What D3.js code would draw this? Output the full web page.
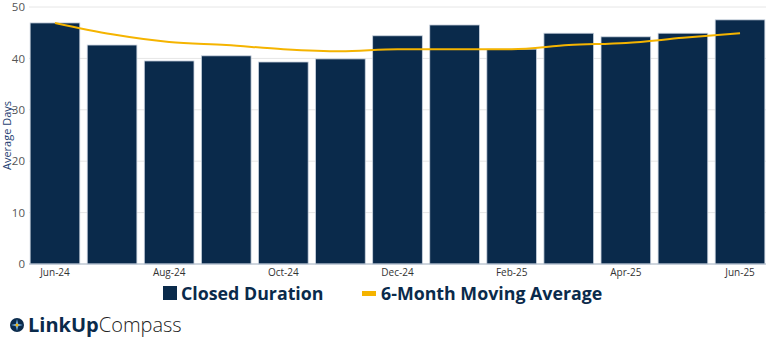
<!DOCTYPE html>
<html><head><meta charset="utf-8">
<script src="https://cdn.jsdelivr.net/npm/d3@7"></script>
<style>body{margin:0;background:#fff;font-family:"Open Sans",sans-serif}</style>
</head><body><svg id="c" width="768" height="343"></svg>
<script>
const months = ["Jun-24","Jul-24","Aug-24","Sep-24","Oct-24","Nov-24","Dec-24","Jan-25","Feb-25","Mar-25","Apr-25","May-25","Jun-25"];
const closedDuration = [46.9,42.6,39.5,40.5,39.3,39.9,44.4,46.5,41.8,44.9,44.2,44.9,47.5];
const movingAvg = [46.9,44.7,43.2,42.6,41.8,41.4,41.8,41.8,41.8,42.6,43.0,44.0,44.9];
const yTicks = [0,10,20,30,40,50];
const xTickLabels = ["Jun-24","Aug-24","Oct-24","Dec-24","Feb-25","Apr-25","Jun-25"];

const svg = d3.select("#c");
const m = {l:29, r:2, t:7, b:79};
const W = 768, H = 343;
const x = d3.scaleBand().domain(months).range([m.l, W-m.r]).paddingInner(0.13).paddingOuter(0.02);
const y = d3.scaleLinear().domain([0,50]).range([H-m.b, m.t]);

// grid
svg.append("g").selectAll("line").data(yTicks).join("line")
  .attr("x1", m.l).attr("x2", W-m.r)
  .attr("y1", d=>y(d)).attr("y2", d=>y(d))
  .attr("stroke", "#e6e6e6").attr("stroke-width", 1);

// y axis labels
const ya = svg.append("g").attr("transform", `translate(${m.l},0)`)
  .call(d3.axisLeft(y).tickValues(yTicks).tickSize(0).tickPadding(4));
ya.select(".domain").remove();
ya.selectAll("text").attr("font-family","Open Sans").attr("font-size", 11.5).attr("fill", "#555");

svg.append("text").attr("transform", `translate(10.5,${y(25)}) rotate(-90)`)
  .attr("text-anchor","middle").attr("font-size", 11).attr("fill", "#1f3f73")
  .attr("font-family","Open Sans").text("Average Days");

// bars
svg.append("g").selectAll("rect").data(months).join("rect")
  .attr("x", d=>x(d)).attr("width", x.bandwidth())
  .attr("y", (d,i)=>y(closedDuration[i])).attr("height", (d,i)=>y(0)-y(closedDuration[i]))
  .attr("fill", "#0a2a4b").attr("stroke", "#c9d2de").attr("stroke-width", 0.8);

// x axis
svg.append("line").attr("x1", m.l).attr("x2", W-m.r).attr("y1", y(0)).attr("y2", y(0))
  .attr("stroke", "#aab8c8").attr("stroke-width", 1);
const xa = svg.append("g").attr("transform", `translate(0,${y(0)})`)
  .call(d3.axisBottom(x).tickValues(xTickLabels).tickSize(0).tickPadding(5));
xa.select(".domain").remove();
xa.selectAll("text").attr("font-family","Open Sans").attr("font-size", 10).attr("fill", "#333");

// line
const line = d3.line().x((d,i)=>x(months[i])+x.bandwidth()/2).y(d=>y(d)).curve(d3.curveMonotoneX);
svg.append("path").datum(movingAvg).attr("d", line)
  .attr("fill","none").attr("stroke","#f5b400").attr("stroke-width", 2);

// legend
const lg = svg.append("g");
lg.append("rect").attr("x",163).attr("y",286).attr("width",14).attr("height",14).attr("fill","#0a2a4b");
lg.append("text").attr("x",181).attr("y",299.5).attr("font-size",17.8).attr("font-weight",700)
  .attr("fill","#0a2a4b").attr("font-family","Open Sans").text("Closed Duration");
lg.append("rect").attr("x",362).attr("y",291).attr("width",14).attr("height",5).attr("fill","#f5b400");
lg.append("text").attr("x",381).attr("y",299.5).attr("font-size",17.8).attr("font-weight",700)
  .attr("fill","#0a2a4b").attr("font-family","Open Sans").text("6-Month Moving Average");

// logo
const logo = svg.append("g");
logo.append("circle").attr("cx",17).attr("cy",325).attr("r",7).attr("fill","#0a2a4b");
logo.append("path").attr("d","M17,319 L18.5,325 L17,331 L15.5,325 Z M11,325 L17,323.5 L23,325 L17,326.5 Z").attr("fill","#6fa8dc");
logo.append("circle").attr("cx",17).attr("cy",325).attr("r",1.5).attr("fill","#f5b400");
const lt = logo.append("text").attr("x",28).attr("y",332).attr("font-family","Open Sans").attr("font-size",20).attr("fill","#0a2a4b");
lt.append("tspan").attr("font-weight",700).text("LinkUp");
lt.append("tspan").attr("font-weight",300).attr("fill","#222").text("Compass");
</script></body></html>
